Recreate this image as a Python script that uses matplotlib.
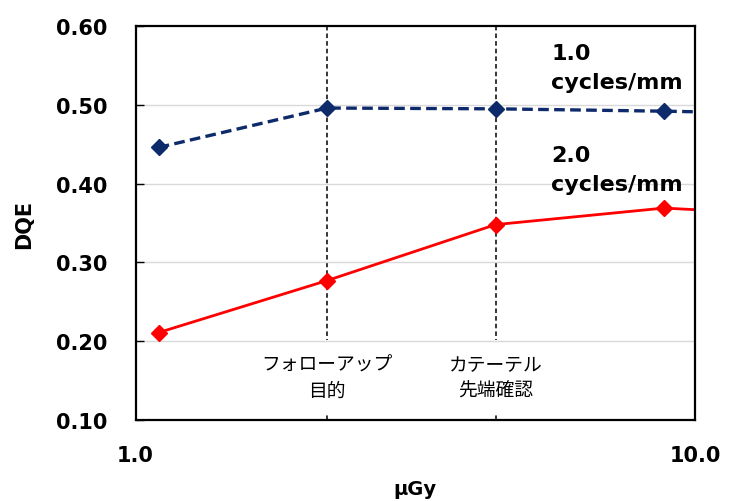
import matplotlib
matplotlib.use("Agg")
import matplotlib.pyplot as plt
from matplotlib.ticker import FixedLocator, NullLocator

plt.rcParams['font.family'] = ['DejaVu Sans', 'Noto Sans CJK JP']

# dose points (uGy); last point lies beyond the axis and is clipped
dose = [1.1, 2.2, 4.4, 8.8, 17.6]
dqe_1cyc = [0.446, 0.496, 0.495, 0.492, 0.488]
dqe_2cyc = [0.211, 0.277, 0.348, 0.369, 0.358]

marker_dose = [2.2, 4.4]
marker_labels = ['フォローアップ\n目的', 'カテーテル\n先端確認']

yticks = [0.10, 0.20, 0.30, 0.40, 0.50, 0.60]
xticks = [1.0, 10.0]

fig = plt.figure(figsize=(7.35, 5.02), dpi=100)
ax = fig.add_axes([0.1844, 0.1614, 0.7612, 0.7846])
ax.set_axisbelow(False)

ax.set_xscale('log')
ax.set_xlim(1.0, 10.0)
ax.set_ylim(0.10, 0.60)

for y in yticks[1:-1]:
    ax.axhline(y, color='#d9d9d9', lw=1.0, zorder=2.2)

for xd in marker_dose:
    ax.axvline(xd, color='black', lw=1.1, ls=(0, (3, 2)), zorder=1)

ax.plot(dose, dqe_1cyc, color='#0d2b6b', lw=2.4, ls=(0, (3.2, 1.6)),
        marker='D', markersize=8.5, zorder=3)
ax.plot(dose, dqe_2cyc, color='#ff0000', lw=2.0, ls='-',
        marker='D', markersize=8.5, zorder=3)

# labels sit on white boxes that hide the vertical guide lines
for xd, lab in zip(marker_dose, marker_labels):
    ax.text(xd, 0.154, lab, ha='center', va='center', fontsize=13.5,
            family=['Noto Sans CJK JP'], linespacing=1.3,
            bbox=dict(facecolor='white', edgecolor='none', pad=10), zorder=2)

ax.text(0.743, 0.895, '1.0\ncycles/mm', transform=ax.transAxes, ha='left', va='center',
        fontsize=16, fontweight='bold', linespacing=1.55)
ax.text(0.743, 0.636, '2.0\ncycles/mm', transform=ax.transAxes, ha='left', va='center',
        fontsize=16, fontweight='bold', linespacing=1.55)

ax.xaxis.set_major_locator(FixedLocator(xticks))
ax.xaxis.set_minor_locator(NullLocator())
ax.set_xticklabels(['1.0', '10.0'], fontsize=15, fontweight='bold')
ax.tick_params(axis='x', length=0, pad=18)

ax.set_yticks(yticks)
ax.set_yticklabels([f'{v:.2f}' for v in yticks], fontsize=15, fontweight='bold')
ax.tick_params(axis='y', direction='in', length=6, width=1, pad=20)

ax.set_ylabel('DQE', fontsize=15, fontweight='bold', labelpad=16)
ax.set_xlabel('μGy', fontsize=14, fontweight='bold', labelpad=10)

for s in ax.spines.values():
    s.set_linewidth(1.6)
    s.set_zorder(4)

fig.savefig('out.png', dpi=100)
